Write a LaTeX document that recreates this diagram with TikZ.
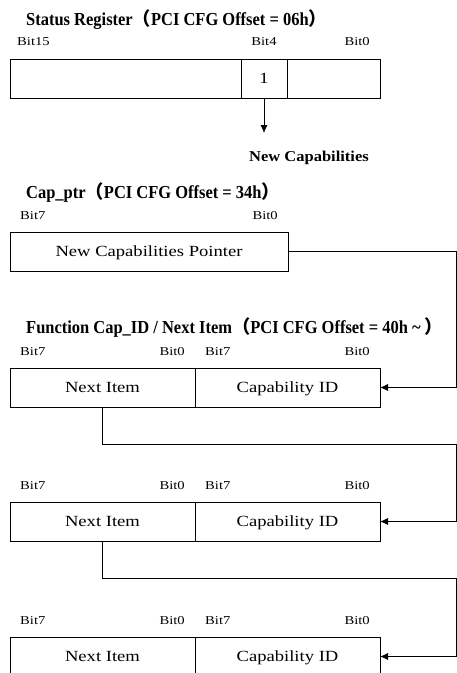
\documentclass[tikz,border=0pt]{standalone}
\usepackage{fontspec}
\setmainfont{Liberation Serif}
\newfontfamily\bitfont[FakeStretch=1.22]{Liberation Serif}
\newfontfamily\boxfont[FakeStretch=1.2]{Liberation Serif}
\newfontfamily\headfont[FakeStretch=0.9]{Liberation Serif}
\newfontfamily\notefont[FakeStretch=1.1]{Liberation Serif}
\newfontfamily\cjk{Noto Sans CJK SC}
\usetikzlibrary{arrows.meta,positioning}

\begin{document}
\begin{tikzpicture}[
  x=1pt, y=-1pt, >={Latex[length=8pt,width=7pt]},
  regfield/.style={draw, line width=1pt, outer sep=0pt, inner sep=0pt, minimum height=39pt, text height=11pt, text depth=2pt, font=\boxfont\fontsize{15.5}{18}\selectfont},
  bitlabel/.style={inner sep=0pt, font=\bitfont\fontsize{12}{14}\selectfont},
  regtitle/.style={inner sep=0pt, anchor=base west, font=\headfont\bfseries\fontsize{18.3}{22}\selectfont},
  link/.style={line width=0.8pt},
]
\useasboundingbox (0,0) rectangle (457,673);

% (a) status register -- bit 4 flags the capability list
\node[regtitle] (sttitle) at (26,25) {Status Register{\cjk （}PCI CFG Offset = 06h{\cjk ）}};
\node[regfield, minimum width=231pt, anchor=north west] (sthigh) at (10,59) {};
\node[regfield, minimum width=46pt, right=0pt of sthigh] (stcap) {1};
\node[regfield, minimum width=93pt, right=0pt of stcap] (stlow) {};
\node[bitlabel, anchor=base west] (st15) at ([xshift=7pt,yshift=14pt]sthigh.north west) {Bit15};
\node[bitlabel, anchor=base] (st4) at ([yshift=14pt]stcap.north) {Bit4};
\node[bitlabel, anchor=base east] (st0) at ([xshift=-10pt,yshift=14pt]stlow.north east) {Bit0};
\coordinate (flag) at ([yshift=-35pt]stcap.south);
\node[inner sep=0pt, anchor=base west, font=\notefont\bfseries\fontsize{15}{18}\selectfont] (newcap) at (249,161) {New Capabilities};
\draw[link,->] (stcap.south) -- (flag);

% (b) capabilities pointer
\node[regtitle] (ptrtitle) at (26,198) {Cap\_ptr{\cjk （}PCI CFG Offset = 34h{\cjk ）}};
\node[regfield, minimum width=278pt, anchor=north west] (capptr) at (10,232) {New Capabilities Pointer};
\node[bitlabel, anchor=base west] (ptr7) at ([xshift=10pt,yshift=13pt]capptr.north west) {Bit7};
\node[bitlabel, anchor=base east] (ptr0) at ([xshift=-10pt,yshift=13pt]capptr.north east) {Bit0};

% (c) linked list of capability items
\node[regtitle] (listtitle) at (26,333) {Function Cap\_ID / Next Item{\cjk （}PCI CFG Offset = 40h \~{} {\cjk ）}};
\foreach \i/\top in {1/368,2/502,3/637} {
  \node[regfield, minimum width=185pt, anchor=north west] (next\i) at (10,\top) {Next Item};
  \node[regfield, minimum width=185pt, right=0pt of next\i] (capid\i) {Capability ID};
  \node[bitlabel, anchor=base west] at ([xshift=10pt,yshift=13pt]next\i.north west) {Bit7};
  \node[bitlabel, anchor=base east] at ([xshift=-10pt,yshift=13pt]next\i.north east) {Bit0};
  \node[bitlabel, anchor=base west] at ([xshift=10pt,yshift=13pt]capid\i.north west) {Bit7};
  \node[bitlabel, anchor=base east] at ([xshift=-10pt,yshift=13pt]capid\i.north east) {Bit0};
}

% pointers run down the right-hand rail
\draw[link,->] (capptr.east) -| ([xshift=76pt]capid1.east) -- (capid1.east);
\foreach \i/\j in {1/2,2/3}
  \draw[link,->] (next\i.south) -- ++(0,37.5) -| ([xshift=76pt]capid\j.east) -- (capid\j.east);

\end{tikzpicture}
\end{document}
